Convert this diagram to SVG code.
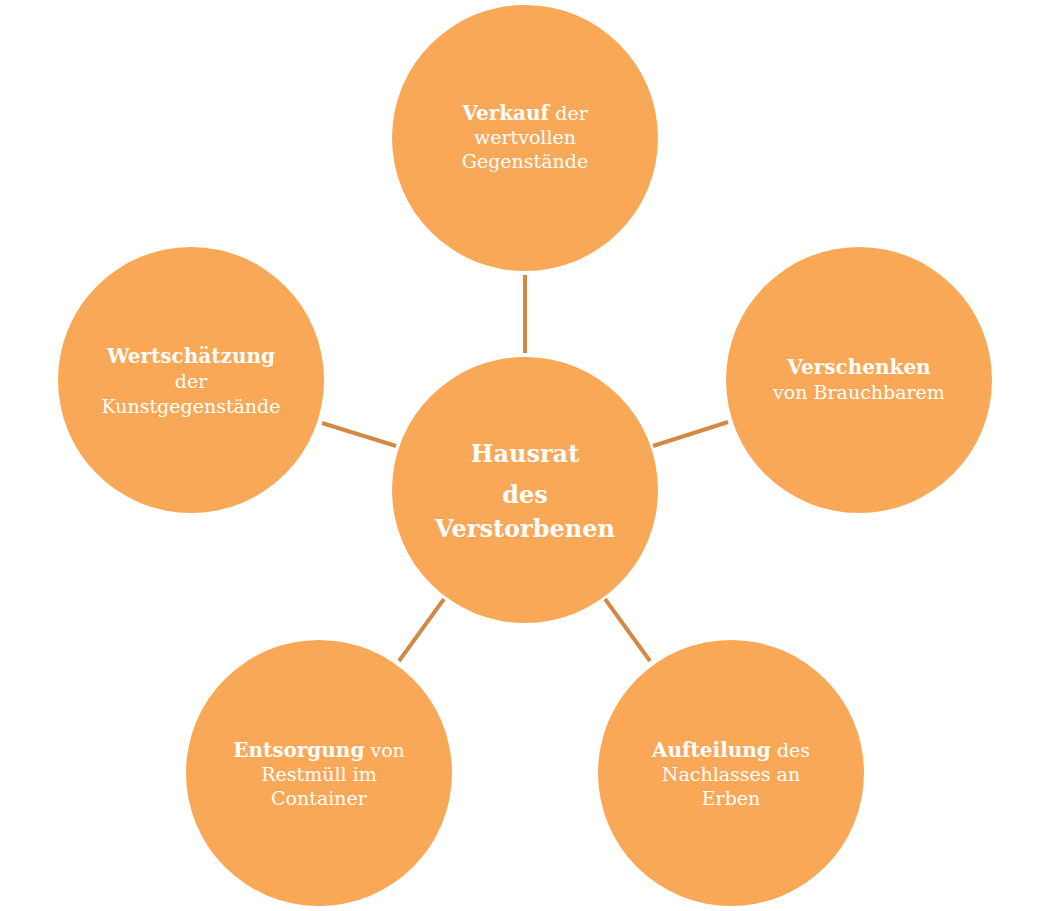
<svg xmlns="http://www.w3.org/2000/svg" width="1051" height="911" viewBox="0 0 1051 911">
<style>
.c{fill:#F9A857;}
.l{stroke:#D08A45;stroke-width:4;fill:none;}
text{font-family:"DejaVu Serif","Liberation Serif",serif;fill:#FFFFFF;text-anchor:middle;font-size:19px;}
.b{font-weight:bold;font-size:20px;}
.m{font-weight:bold;font-size:24px;}
</style>
<rect width="1051" height="911" fill="#FFFFFF"/>
<g id="connectors">
<line class="l" x1="525" y1="275" x2="525" y2="353"/>
<line class="l" x1="322" y1="423" x2="396" y2="446"/>
<line class="l" x1="653" y1="446" x2="728" y2="422"/>
<line class="l" x1="399" y1="661" x2="444" y2="599"/>
<line class="l" x1="605" y1="599" x2="650" y2="661"/>
</g>
<g id="center">
<circle class="c" cx="525" cy="490" r="133"/>
<text class="m" x="525" y="462">Hausrat</text>
<text class="m" x="525" y="503">des</text>
<text class="m" x="525" y="537">Verstorbenen</text>
</g>
<g id="top">
<circle class="c" cx="525" cy="138" r="133"/>
<text x="525" y="120"><tspan class="b">Verkauf</tspan> der</text>
<text x="525" y="144">wertvollen</text>
<text x="525" y="168">Gegenstände</text>
</g>
<g id="left">
<circle class="c" cx="191" cy="380" r="133"/>
<text class="b" x="191" y="363">Wertschätzung</text>
<text x="191" y="388">der</text>
<text x="191" y="413">Kunstgegenstände</text>
</g>
<g id="right">
<circle class="c" cx="859" cy="380" r="133"/>
<text class="b" x="859" y="374">Verschenken</text>
<text x="859" y="399">von Brauchbarem</text>
</g>
<g id="bottomleft">
<circle class="c" cx="319" cy="773" r="133"/>
<text x="319" y="757"><tspan class="b">Entsorgung</tspan> von</text>
<text x="319" y="781">Restmüll im</text>
<text x="319" y="805">Container</text>
</g>
<g id="bottomright">
<circle class="c" cx="731" cy="773" r="133"/>
<text x="731" y="757"><tspan class="b">Aufteilung</tspan> des</text>
<text x="731" y="781">Nachlasses an</text>
<text x="731" y="805">Erben</text>
</g>
</svg>
